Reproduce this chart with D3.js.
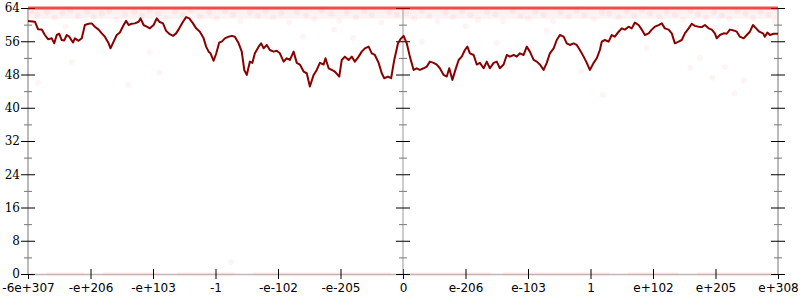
<!DOCTYPE html>
<html>
<head>
<meta charset="utf-8">
<script src="https://cdn.jsdelivr.net/npm/d3@7"></script>
<style>
  body { margin: 0; background: #fff; }
  .ylab { font-family: "DejaVu Serif", serif; font-size: 12px; }
  .xlab { font-family: "DejaVu Sans", sans-serif; font-size: 12px; }
</style>
</head>
<body>
<div id="chart"></div>
<script>
// x positions are in tick units (0 = first tick, 12 = last tick)
const xTickLabels = ["-6e+307", "-e+206", "-e+103", "-1", "-e-102", "-e-205", "0",
                     "e-206", "e-103", "1", "e+102", "e+205", "e+308"];
const yMajorTicks = [0, 8, 16, 24, 32, 40, 48, 56, 64];
const yMinorTicks = [4, 12, 20, 28, 36, 44, 52, 60];
const axisPositions = [0, 6, 12];

// average error line
const errX = [0, 0.11, 0.16, 0.22, 0.27, 0.32, 0.38, 0.42, 0.46, 0.5, 0.54, 0.58, 0.62, 0.66, 0.72, 0.75,
  0.81, 0.86, 0.91, 0.97, 1.02, 1.07, 1.13, 1.18, 1.23, 1.29, 1.32, 1.37, 1.42, 1.47, 1.53, 1.57, 1.61,
  1.66, 1.71, 1.77, 1.8, 1.85, 1.9, 1.95, 2.01, 2.06, 2.1, 2.16, 2.21, 2.26, 2.32, 2.37, 2.42, 2.48,
  2.53, 2.58, 2.64, 2.69, 2.75, 2.81, 2.85, 2.89, 2.92, 2.97, 3.01, 3.06, 3.1, 3.15, 3.21, 3.26, 3.31,
  3.37, 3.42, 3.46, 3.5, 3.55, 3.59, 3.63, 3.69, 3.73, 3.77, 3.82, 3.87, 3.93, 3.98, 4.03, 4.09, 4.14,
  4.19, 4.25, 4.3, 4.35, 4.41, 4.46, 4.51, 4.57, 4.62, 4.67, 4.73, 4.76, 4.81, 4.86, 4.91, 4.98, 5.02,
  5.07, 5.13, 5.18, 5.23, 5.29, 5.34, 5.39, 5.45, 5.5, 5.55, 5.61, 5.66, 5.7, 5.76, 5.81, 5.86, 5.92,
  5.97, 6.01, 6.06, 6.11, 6.17, 6.22, 6.27, 6.33, 6.38, 6.43, 6.49, 6.54, 6.59, 6.65, 6.7, 6.74, 6.79,
  6.83, 6.89, 6.94, 6.99, 7.03, 7.07, 7.13, 7.18, 7.23, 7.29, 7.34, 7.39, 7.45, 7.5, 7.55, 7.61, 7.66,
  7.71, 7.77, 7.82, 7.87, 7.93, 7.98, 8.03, 8.09, 8.14, 8.19, 8.25, 8.3, 8.35, 8.41, 8.46, 8.51, 8.57,
  8.62, 8.67, 8.73, 8.78, 8.83, 8.89, 8.94, 8.99, 9.05, 9.1, 9.15, 9.18, 9.23, 9.29, 9.34, 9.39, 9.45,
  9.5, 9.55, 9.61, 9.66, 9.71, 9.77, 9.82, 9.87, 9.93, 9.98, 10.03, 10.09, 10.14, 10.19, 10.25, 10.3,
  10.35, 10.41, 10.46, 10.51, 10.57, 10.62, 10.67, 10.73, 10.78, 10.83, 10.89, 10.94, 10.99, 11.02,
  11.07, 11.13, 11.18, 11.23, 11.29, 11.34, 11.39, 11.45, 11.5, 11.55, 11.6, 11.65, 11.7, 11.76, 11.79,
  11.83, 11.87, 11.93, 12];
const errY = [60.9, 60.7, 58.9, 58.8, 57.5, 56.5, 56.7, 55.5, 57.5, 57.8, 56.3, 56.2, 57.5, 57.1, 55.7, 56.7,
  56.1, 56.7, 59.9, 60.2, 60.3, 59.5, 58.8, 57.9, 57.1, 55.5, 54.3, 55.9, 57.5, 58.1, 59.9, 60.9, 59.9,
  60.2, 60.3, 60.7, 61.5, 59.9, 59.5, 59.1, 59.9, 61.5, 60.7, 60.3, 58.5, 57.8, 57.3, 57.9, 59.1, 60.7,
  61.8, 61.5, 60.3, 59.1, 58.3, 56.7, 54.7, 53.5, 53.1, 51.3, 53.0, 55.7, 55.9, 56.7, 57.1, 57.3, 57.1,
  55.5, 53.5, 49.1, 47.9, 51.1, 50.8, 53.1, 54.7, 55.5, 54.3, 55.1, 53.9, 53.5, 53.7, 53.1, 51.1, 51.9,
  51.5, 53.5, 50.8, 50.4, 48.7, 48.3, 45.1, 47.9, 49.1, 50.8, 50.4, 51.9, 49.5, 49.1, 48.7, 47.5, 51.5,
  52.3, 51.5, 52.3, 51.1, 52.3, 53.5, 54.3, 54.7, 53.1, 52.7, 50.8, 48.3, 47.1, 47.5, 47.1, 51.5, 55.5,
  56.7, 57.3, 55.5, 52.3, 49.1, 49.5, 49.1, 49.5, 49.9, 51.1, 50.8, 50.4, 49.5, 47.9, 47.5, 49.5, 46.7,
  48.7, 51.5, 52.3, 53.9, 54.7, 53.1, 52.7, 50.4, 50.8, 49.5, 51.1, 49.5, 50.8, 51.1, 49.5, 50.4, 52.7,
  52.3, 52.7, 52.3, 53.1, 52.7, 54.7, 53.5, 51.5, 51.1, 50.4, 49.1, 50.8, 53.1, 54.3, 56.3, 57.5, 57.1,
  55.5, 55.1, 55.5, 55.1, 53.9, 52.3, 50.8, 49.1, 50.8, 51.9, 53.9, 55.9, 56.3, 55.9, 57.5, 57.1, 58.3,
  59.1, 58.8, 59.5, 59.1, 60.5, 59.9, 58.8, 57.5, 57.9, 58.8, 59.5, 59.9, 60.3, 59.1, 58.8, 57.9, 55.5,
  55.9, 56.3, 57.9, 59.1, 60.2, 59.7, 59.5, 59.4, 59.9, 59.1, 58.8, 57.9, 56.7,
  57.5, 57.9, 57.8, 58.8, 58.6, 58.3, 57.1, 56.7, 57.5, 58.3, 59.9, 59.1, 58.3, 57.9, 57.1,
  58.1, 57.5, 57.8, 57.8];

// runs of sample points sitting exactly on 64 bits and 0 bits
const maxedRuns = [[0, 12]];
const zeroRuns = [[0.3, 0.9], [1.2, 2.1], [2.4, 3.3], [3.6, 5.8], [6.1, 7.4], [7.6, 9.3], [9.6, 10.4], [10.7, 11.9]];
// dense haze of samples just under the maximum
const hazeBand = [61.4, 64];

// individual sample points
const sampleX = [0.05, 0.15, 0.3, 0.42, 0.55, 0.68, 0.8, 0.95, 1.05, 1.18, 1.3, 1.42, 1.55, 1.7, 1.82, 1.95,
  2.08, 2.2, 2.35, 2.48, 2.6, 2.75, 2.9, 3.02, 3.15, 3.28, 3.4, 3.55, 3.68, 3.8, 3.92, 4.05, 4.18, 4.3,
  4.45, 4.58, 4.7, 4.85, 4.98, 5.1, 5.25, 5.38, 5.5, 5.65, 5.78, 5.9, 6.05, 6.18, 6.3, 6.42, 6.55, 6.68,
  6.8, 6.95, 7.08, 7.2, 7.35, 7.48, 7.6, 7.75, 7.88, 8.0, 8.12, 8.25, 8.4, 8.52, 8.65, 8.78, 8.9, 9.05,
  9.18, 9.3, 9.45, 9.58, 9.7, 9.82, 9.95, 10.1, 10.22, 10.35, 10.48, 10.6, 10.72, 10.85, 10.98, 11.1,
  11.22, 11.35, 11.48, 11.6, 11.72, 11.85, 11.95,
  0.16, 0.7, 1.95, 2.1, 3.25, 8.85, 9.2, 7.5, 10.6, 10.75, 10.95, 11.15, 11.45, 11.3, 3.0, 5.2, 6.3,
  4.4, 1.6, 9.9, 0.6, 2.4, 4.9, 7.0, 8.3, 11.0];
const sampleY = [63.2, 62.4, 63.0, 61.6, 62.8, 63.4, 62.0, 63.1, 61.9, 62.7, 63.3, 61.2, 62.5, 63.0, 62.2, 63.5,
  62.6, 61.4, 63.1, 62.3, 63.4, 62.0, 62.9, 61.5, 63.2, 62.4, 60.8, 62.9, 62.1, 63.3, 61.7, 62.8, 60.5, 63.0,
  62.2, 61.3, 63.4, 62.6, 60.9, 62.9, 61.8, 63.2, 62.3, 60.6, 63.0, 62.4, 62.7, 61.4, 63.3, 62.1, 60.7, 62.9,
  61.8, 63.2, 62.3, 61.1, 63.0, 62.5, 60.9, 63.3, 62.0, 61.5, 63.1, 62.4, 60.8, 62.9, 61.9, 63.4, 62.2, 61.3,
  63.0, 62.6, 61.7, 63.2, 62.1, 63.5, 62.7, 61.9, 63.1, 62.4, 61.2, 63.3, 62.5, 61.8, 63.0, 62.2,
  61.4, 63.2, 62.6, 61.6, 63.1, 62.3, 60.9,
  46.0, 51.0, 53.4, 48.4, 2.9, 48.8, 43.1, 55.6, 49.6, 52.0, 47.2, 49.8, 46.5, 43.5, 55.2, 56.8, 55.9,
  57.1, 45.5, 54.4, 59.5, 59.0, 58.8, 59.6, 58.6, 59.2];

const width = 800, height = 300;
const x = d3.scaleLinear().domain([0, 12]).range([28, 778]);
const y = d3.scaleLinear().domain([0, 64]).range([274, 8]);

const svg = d3.select("#chart").append("svg")
    .attr("width", width)
    .attr("height", height);

// haze + sample points (drawn under the axes)
svg.append("rect")
    .datum(hazeBand)
    .attr("x", x(0)).attr("width", x(12) - x(0))
    .attr("y", d => y(d[1])).attr("height", d => y(d[0]) - y(d[1]))
    .attr("fill", "#f00")
    .attr("fill-opacity", 0.05);

svg.append("g")
    .selectAll("circle")
    .data(sampleX.map((d, i) => ({ u: d, v: sampleY[i] })))
    .join("circle")
    .attr("cx", d => x(d.u))
    .attr("cy", d => y(d.v))
    .attr("r", 3)
    .attr("fill", "#f00")
    .attr("fill-opacity", 0.045);

svg.append("g")
    .selectAll("line.zero")
    .data(zeroRuns)
    .join("line")
    .attr("class", "zero")
    .attr("x1", d => x(d[0])).attr("x2", d => x(d[1]))
    .attr("y1", y(0)).attr("y2", y(0))
    .attr("stroke", "#f00")
    .attr("stroke-opacity", 0.08)
    .attr("stroke-width", 3);

// x axis baseline + ticks
const xAxis = svg.append("g")
    .attr("transform", `translate(0,${y(0)})`)
    .call(d3.axisBottom(x)
        .tickValues(d3.range(xTickLabels.length))
        .tickFormat(i => xTickLabels[i])
        .tickSizeInner(5)
        .tickSizeOuter(0));
xAxis.select(".domain").attr("stroke", "#c8b4b4").attr("stroke-width", 1.5);
xAxis.selectAll(".tick line").attr("y1", -5).attr("stroke", "#000");
xAxis.selectAll(".tick text").attr("class", "xlab").attr("y", 9).attr("fill", "#000");

// vertical axes (left, middle, right)
axisPositions.forEach((pos, k) => {
    const g = svg.append("g").attr("transform", `translate(${x(pos)},0)`);
    g.append("line")
        .attr("y1", y(0)).attr("y2", y(64))
        .attr("stroke", k === 1 ? "#999" : "#bbb")
        .attr("stroke-width", k === 1 ? 1 : 2);

    const major = d3.axisLeft(y).tickValues(yMajorTicks).tickSizeInner(7).tickSizeOuter(0)
        .tickFormat(k === 0 ? d3.format("d") : () => "");
    const gm = g.append("g").call(major);
    gm.select(".domain").remove();
    gm.selectAll(".tick line").attr("x2", 7).attr("x1", -7).attr("stroke", "#000");
    gm.selectAll(".tick text").attr("class", "ylab").attr("x", -8).attr("fill", "#000");

    const minor = d3.axisLeft(y).tickValues(yMinorTicks).tickSizeInner(4).tickSizeOuter(0)
        .tickFormat(() => "");
    const gn = g.append("g").call(minor);
    gn.select(".domain").remove();
    gn.selectAll(".tick line").attr("x1", -4).attr("x2", 4).attr("stroke", "#777");
});

// samples pinned at the 64-bit maximum
svg.append("g")
    .selectAll("line.maxed")
    .data(maxedRuns)
    .join("line")
    .attr("class", "maxed")
    .attr("x1", d => x(d[0])).attr("x2", d => x(d[1]))
    .attr("y1", y(64)).attr("y2", y(64))
    .attr("stroke", "#e00")
    .attr("stroke-opacity", 0.7)
    .attr("stroke-width", 3);

// error line
const line = d3.line()
    .x(d => x(d.u))
    .y(d => y(d.v));

svg.append("path")
    .datum(errX.map((d, i) => ({ u: d, v: errY[i] })))
    .attr("d", line)
    .attr("fill", "none")
    .attr("stroke", "#800")
    .attr("stroke-width", 2)
    .attr("stroke-linejoin", "round");
</script>
</body>
</html>
